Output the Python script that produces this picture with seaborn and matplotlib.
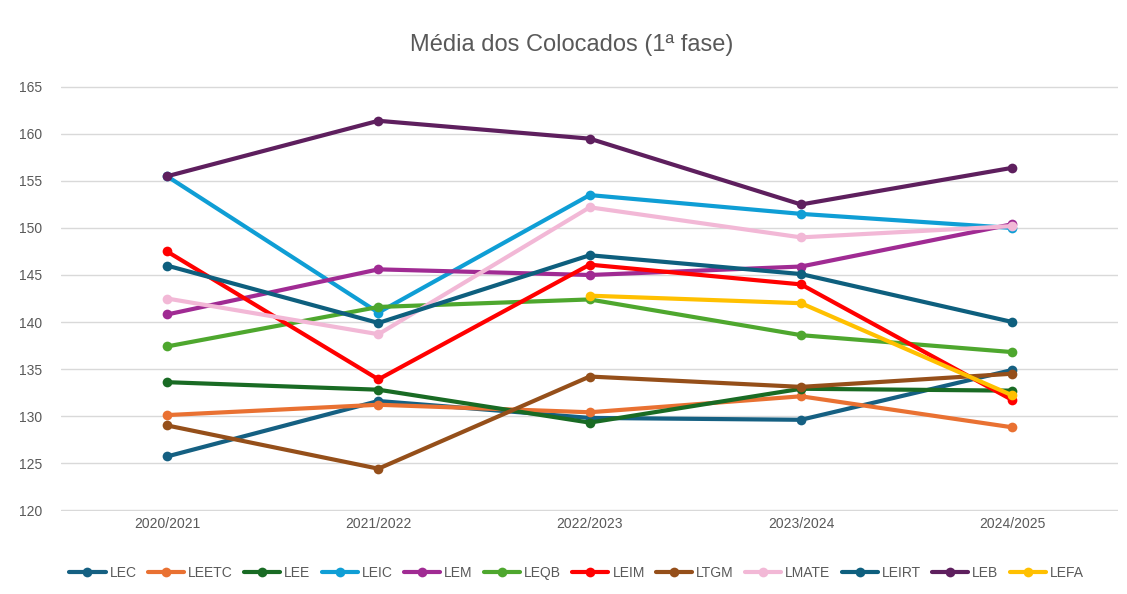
import pandas as pd
import matplotlib.pyplot as plt
import seaborn as sns
import numpy as np

anos = ['2020/2021', '2021/2022', '2022/2023', '2023/2024', '2024/2025']

cursos = ['LEC', 'LEETC', 'LEE', 'LEIC', 'LEM', 'LEQB', 'LEIM', 'LTGM',
          'LMATE', 'LEIRT', 'LEB', 'LEFA']

LEC = [125.7, 131.6, 129.8, 129.6, 134.9]
LEETC = [130.1, 131.2, 130.4, 132.1, 128.8]
LEE = [133.6, 132.8, 129.3, 132.9, 132.7]
LEIC = [155.5, 141.0, 153.5, 151.5, 150.0]
LEM = [140.8, 145.6, 145.0, 145.9, 150.4]
LEQB = [137.4, 141.6, 142.4, 138.6, 136.8]
LEIM = [147.5, 133.9, 146.1, 144.0, 131.7]
LTGM = [129.0, 124.4, 134.2, 133.1, 134.5]
LMATE = [142.5, 138.7, 152.2, 149.0, 150.2]
LEIRT = [146.0, 139.9, 147.1, 145.1, 140.0]
LEB = [155.5, 161.4, 159.5, 152.5, 156.4]
LEFA = [np.nan, np.nan, 142.8, 142.0, 132.2]

valores = [LEC, LEETC, LEE, LEIC, LEM, LEQB, LEIM, LTGM, LMATE, LEIRT, LEB, LEFA]

cores = ['#156082', '#E97132', '#196B24', '#0F9ED5', '#A02B93', '#4EA72E',
         '#FF0000', '#954F1A', '#F2B8D6', '#0E5F7E', '#5E1F5E', '#FFC000']

rows = []
for c, v in zip(cursos, valores):
    for a, y in zip(anos, v):
        rows.append({'Ano': a, 'Curso': c, 'Media': y})
df = pd.DataFrame(rows).dropna()

sns.set_style('white')
plt.rcParams['font.family'] = ['Liberation Sans', 'DejaVu Sans']

fig, ax = plt.subplots(figsize=(11.27, 5.94), dpi=100)
fig.subplots_adjust(left=0.0545, right=0.992, top=1 - 86 / 594, bottom=1 - 511 / 594)

sns.lineplot(data=df, x='Ano', y='Media', hue='Curso', hue_order=cursos,
             palette=dict(zip(cursos, cores)), marker='o', markersize=7,
             markeredgewidth=0, linewidth=3, ax=ax, sort=False)

ax.set_xlim(-0.5, 4.5)
ax.set_ylim(119.9, 165.1)
ax.set_yticks(range(120, 166, 5))
ax.yaxis.grid(True, color='#D9D9D9', linewidth=1)
ax.set_axisbelow(True)
for s in ax.spines.values():
    s.set_visible(False)
ax.tick_params(axis='x', length=0, labelsize=10, labelcolor='#595959', pad=4)
ax.tick_params(axis='y', length=0, labelsize=10, labelcolor='#595959', pad=14)
ax.set_xlabel('')
ax.set_ylabel('')
fig.text(572 / 1127, 1 - 45 / 594, 'Média dos Colocados (1ª fase)', fontsize=17,
         color='#595959', ha='center', va='center')

ax.legend(loc='center', bbox_to_anchor=((576 - 61) / (1117 - 61), (511 - 573) / (511 - 86)),
          ncol=12, frameon=False, fontsize=10, labelcolor='#595959', handlelength=2.6,
          columnspacing=0.8, handletextpad=0.3)

plt.savefig('out.png', dpi=100)
